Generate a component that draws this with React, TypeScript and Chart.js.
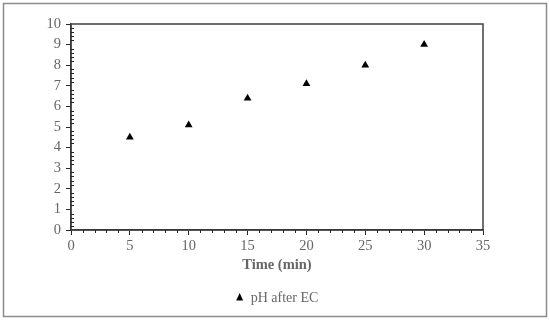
import React, { useEffect, useRef } from "react";
import { Chart, registerables } from "chart.js";

Chart.register(...registerables);

const timeMin = [5, 10, 15, 20, 25, 30];
const phAfterEC = [4.5, 5.1, 6.4, 7.1, 8.0, 9.0];
const seriesLabel = "pH after EC";
const xTitle = "Time (min)";

const FONT = "'Liberation Serif', 'Times New Roman', serif";
const GRAY = "#666666";

const framePlugin = {
  id: "frame",
  beforeDraw(chart: any) {
    const ctx = chart.ctx;
    ctx.save();
    ctx.fillStyle = "#ffffff";
    ctx.fillRect(0, 0, chart.width, chart.height);
    ctx.strokeStyle = "#8c8c8c";
    ctx.lineWidth = 1.5;
    ctx.strokeRect(3.5, 3.5, chart.width - 7, chart.height - 8);
    ctx.restore();
  },
  afterDraw(chart: any) {
    const ctx = chart.ctx;
    const a = chart.chartArea;
    const xs = chart.scales.x;
    const ys = chart.scales.y;
    ctx.save();
    ctx.strokeStyle = "#404040";
    ctx.lineWidth = 1.5;
    ctx.strokeRect(a.left, a.top, a.right - a.left, a.bottom - a.top);
    ctx.strokeStyle = "#262626";
    ctx.lineWidth = 1;
    ctx.beginPath();
    for (let v = 0; v <= 35; v += 1) {
      if (v % 5 === 0) continue;
      const px = Math.round(xs.getPixelForValue(v)) + 0.5;
      ctx.moveTo(px, a.bottom);
      ctx.lineTo(px, a.bottom + 3);
    }
    for (let i = 0; i <= 50; i++) {
      if (i % 5 === 0) continue;
      const py = Math.round(ys.getPixelForValue(i / 5)) + 0.5;
      ctx.moveTo(a.left, py);
      ctx.lineTo(a.left + 3, py);
    }
    ctx.stroke();
    ctx.restore();
  },
};

export default function App() {
  const ref = useRef<HTMLCanvasElement>(null);
  useEffect(() => {
    document.body.style.margin = "0";
    const chart = new Chart(ref.current!, {
      type: "scatter",
      data: {
        datasets: [
          {
            label: seriesLabel,
            data: timeMin.map((t, i) => ({ x: t, y: phAfterEC[i] })),
            pointStyle: "triangle",
            pointRadius: 4.5,
            backgroundColor: "#000000",
            borderColor: "#000000",
            borderWidth: 0,
          },
        ],
      },
      options: {
        responsive: false,
        animation: false,
        layout: { padding: { top: 24, left: 8, right: 67, bottom: 6 } },
        plugins: {
          tooltip: { enabled: false },
          legend: {
            position: "bottom",
            fullSize: false,
            labels: {
              usePointStyle: true,
              pointStyleWidth: 8,
              boxHeight: 7,
              color: GRAY,
              font: { family: FONT, size: 14 },
              padding: 10,
            },
          },
        },
        scales: {
          x: {
            type: "linear",
            min: 0,
            max: 35,
            ticks: { stepSize: 5, color: GRAY, font: { family: FONT, size: 14.5 }, padding: 2 },
            grid: { drawOnChartArea: false, drawTicks: true, tickLength: 5, color: "#262626" },
            border: { color: "#262626", width: 1.5 },
            title: {
              display: true,
              text: xTitle,
              color: GRAY,
              font: { family: FONT, size: 14.5, weight: "bold" },
              padding: { top: 1, bottom: 7 },
            },
            afterFit: (s: any) => {
              s.height = 51;
            },
          },
          y: {
            min: 0,
            max: 10,
            ticks: { stepSize: 1, color: GRAY, font: { family: FONT, size: 14.5 }, padding: 5 },
            grid: { drawOnChartArea: false, drawTicks: true, tickLength: 5, color: "#262626" },
            border: { color: "#262626", width: 1.5 },
            afterFit: (s: any) => {
              s.width = 63;
            },
          },
        },
      },
      plugins: [framePlugin],
    } as any);
    return () => chart.destroy();
  }, []);
  return (
    <div style={{ position: "relative", width: 550, height: 321 }}>
      <canvas ref={ref} width={550} height={321} style={{ display: "block" }} />
    </div>
  );
}
